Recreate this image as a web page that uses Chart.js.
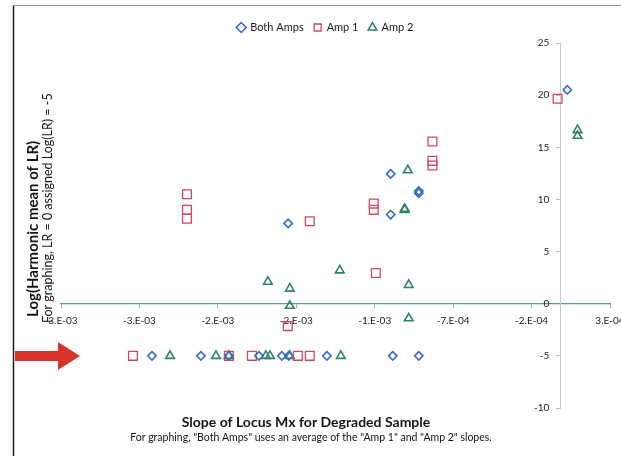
<!DOCTYPE html>
<html><head><meta charset="utf-8">
<script src="https://cdn.jsdelivr.net/npm/chart.js@4.4.0/dist/chart.umd.min.js"></script>
<style>
html,body{margin:0;padding:0;background:#fff;}
#wrap{position:relative;width:621px;height:456px;}
</style></head><body>
<div id="wrap"><canvas id="c" width="621" height="456"></canvas></div>
<script>
// ---- data (slopes in absolute units, y = Log(harmonic mean of LR)) ----
const bothAmpsX = [-1.737e-3, -1.083e-3, -1.083e-3, -0.904e-3, -0.904e-3, 0.043e-3,
  -2.605e-3, -2.293e-3, -2.115e-3, -1.923e-3, -1.777e-3, -1.733e-3, -1.490e-3, -1.070e-3, -0.904e-3];
const bothAmpsY = [7.7, 12.45, 8.55, 10.8, 10.6, 20.5,
  -5, -5, -5, -5, -5, -5, -5, -5, -5];

const amp1X = [-2.382e-3, -2.382e-3, -2.382e-3, -1.599e-3, -1.739e-3, -1.178e-3, -1.191e-3, -1.191e-3,
  -0.817e-3, -0.817e-3, -0.817e-3, -0.019e-3,
  -2.726e-3, -2.115e-3, -1.968e-3, -1.675e-3, -1.599e-3];
const amp1Y = [10.5, 9.0, 8.15, 7.9, -2.15, 2.95, 9.6, 9.0,
  15.55, 13.7, 13.25, 19.65,
  -5, -5, -5, -5, -5];

const amp2X = [-1.866e-3, -1.726e-3, -1.726e-3, -1.408e-3, -0.974e-3, -0.994e-3, -0.994e-3, -0.968e-3, -0.968e-3,
  0.108e-3, 0.108e-3,
  -2.490e-3, -2.197e-3, -2.115e-3, -1.879e-3, -1.853e-3, -1.726e-3, -1.401e-3];
const amp2Y = [2.1, 1.45, -0.2, 3.2, 12.8, 9.0, 9.1, 1.8, -1.4,
  16.65, 16.1,
  -5, -5, -5, -5, -5, -5, -5];

const xTickValues = [-3.185e-3, -2.685e-3, -2.185e-3, -1.685e-3, -1.185e-3, -0.685e-3, -0.185e-3, 0.315e-3];
const xTickLabels = ['-3.E-03', '-3.E-03', '-2.E-03', '-2.E-03', '-1.E-03', '-7.E-04', '-2.E-04', '3.E-04'];
const yTickValues = [25, 20, 15, 10, 5, 0, -5, -10];
const yTickLabels = ['25', '20', '15', '10', '5', '0', '-5', '-10'];

const seriesNames = ['Both Amps', 'Amp 1', 'Amp 2'];
const xTitle = 'Slope of Locus Mx for Degraded Sample';
const xSubtitle = 'For graphing, "Both Amps" uses an average of the "Amp 1" and "Amp 2" slopes.';
const yTitle = 'Log(Harmonic mean of LR)';
const ySubtitle = 'For graphing, LR = 0 assigned Log(LR) = -5';

const pts = (xs, ys) => xs.map((x, i) => ({x: x, y: ys[i]}));
const FONT = 'Lato, "Open Sans", sans-serif';

const decor = {
  id: 'decor',
  beforeDraw(chart) {
    const ctx = chart.ctx;
    ctx.save();
    ctx.fillStyle = '#ffffff';
    ctx.fillRect(0, 0, chart.width, chart.height);
    ctx.restore();
  },
  afterDraw(chart) {
    const ctx = chart.ctx;
    ctx.save();
    // frame
    ctx.strokeStyle = '#1e1e1e'; ctx.lineWidth = 1.5;
    ctx.beginPath(); ctx.moveTo(13.5, 5); ctx.lineTo(13.5, 456); ctx.stroke();
    ctx.strokeStyle = '#7f9a9e'; ctx.lineWidth = 1;
    ctx.beginPath(); ctx.moveTo(13, 5.5); ctx.lineTo(621, 5.5); ctx.stroke();
    // x titles
    ctx.fillStyle = '#151515'; ctx.textAlign = 'center'; ctx.textBaseline = 'middle';
    ctx.font = 'bold 14px ' + FONT; ctx.fillText(xTitle, 306, 422);
    ctx.font = '10.5px ' + FONT; ctx.fillText(xSubtitle, 311, 438);
    // y titles
    ctx.save();
    ctx.translate(33, 317); ctx.rotate(-Math.PI / 2);
    ctx.textAlign = 'left';
    ctx.font = 'bold 15px ' + FONT; ctx.fillText(yTitle, 0, 0);
    ctx.font = '12.5px ' + FONT; ctx.fillText(ySubtitle, -6, 14.5);
    ctx.restore();
    // red arrow annotation
    ctx.fillStyle = '#d7352c';
    ctx.beginPath();
    ctx.moveTo(15, 351); ctx.lineTo(58, 351); ctx.lineTo(58, 342); ctx.lineTo(80, 356);
    ctx.lineTo(58, 370); ctx.lineTo(58, 361); ctx.lineTo(15, 361); ctx.closePath();
    ctx.fill();
    ctx.restore();
  }
};

new Chart(document.getElementById('c'), {
  type: 'scatter',
  data: {
    datasets: [
      {label: seriesNames[0], data: pts(bothAmpsX, bothAmpsY), pointStyle: 'rectRot', pointRadius: 4.2,
       borderColor: '#3a6cc6', backgroundColor: 'rgba(0,0,0,0)', borderWidth: 1.6},
      {label: seriesNames[1], data: pts(amp1X, amp1Y), pointStyle: 'rect', pointRadius: 6.2,
       borderColor: '#d3485f', backgroundColor: 'rgba(0,0,0,0)', borderWidth: 1.3},
      {label: seriesNames[2], data: pts(amp2X, amp2Y), pointStyle: 'triangle', pointRadius: 5,
       borderColor: '#2e8466', backgroundColor: 'rgba(0,0,0,0)', borderWidth: 1.6}
    ]
  },
  options: {
    responsive: false,
    animation: false,
    layout: {padding: {left: 41, right: 11, top: 4, bottom: 48}},
    plugins: {
      legend: {
        position: 'top',
        labels: {
          usePointStyle: true, boxWidth: 7, boxHeight: 7, padding: 10.5,
          color: '#1a1a1a', font: {family: FONT, size: 11}
        }
      },
      tooltip: {enabled: false}
    },
    scales: {
      x: {
        type: 'linear',
        position: {y: 0},
        min: xTickValues[0], max: xTickValues[xTickValues.length - 1],
        afterBuildTicks: (s) => { s.ticks = xTickValues.map(v => ({value: v})); },
        afterFit: (s) => { s.paddingLeft = 61; s.paddingRight = 0; s.paddingTop = 0; s.paddingBottom = 0; },
        ticks: {
          autoSkip: false, maxRotation: 0, padding: 7,
          color: '#1a1a1a', font: {family: FONT, size: 10},
          callback: (v, i) => xTickLabels[i]
        },
        grid: {drawOnChartArea: false, drawTicks: true, tickLength: 4, color: '#9fb3b6'},
        border: {color: '#5f959c', width: 1.2}
      },
      y: {
        type: 'linear',
        position: {x: 0},
        min: -10, max: 25,
        afterBuildTicks: (s) => { s.ticks = yTickValues.map(v => ({value: v})); },
        afterFit: (s) => { s.paddingLeft = 0; s.paddingRight = 0; s.paddingTop = 43; s.paddingBottom = 0; },
        ticks: {
          autoSkip: false, padding: 6,
          color: '#1a1a1a', font: {family: FONT, size: 10},
          // trailing spaces keep the label clear of the axis line (Excel "next to axis" look)
          callback: (v, i) => yTickLabels[i] + '\u2002\u2002\u2009'
        },
        grid: {drawOnChartArea: false, drawTicks: true, tickLength: 4, color: '#b9c2c4'},
        border: {color: '#c3cacc', width: 1}
      }
    }
  },
  plugins: [decor]
});
</script>
</body></html>
